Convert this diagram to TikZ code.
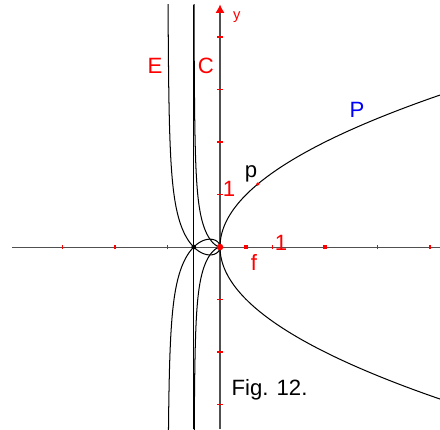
\documentclass[tikz,border=0pt]{standalone}
\usepackage{fontspec}
\setmainfont{Liberation Sans}
\usetikzlibrary{arrows.meta}
\definecolor{figRed}{HTML}{FF0000}
\definecolor{figBlue}{HTML}{0000FF}
\definecolor{axisGray}{HTML}{505050}
\begin{document}
\begin{tikzpicture}[font=\fontsize{12}{14}\selectfont,
  lbl/.style={text=figRed, inner sep=0pt},
  curve/.style={black, line width=0.55pt},
  axis/.style={axisGray, line width=0.55pt},
  tickmark/.style={figRed, line width=0.7pt},
  rdot/.style={circle, fill=figRed, inner sep=0pt, minimum size=#1},
  rsq/.style={rectangle, fill=figRed, inner sep=0pt, minimum size=#1}]
\useasboundingbox (-4.19,-3.467) rectangle (4.19,4.705);
% ---------- axes and unit marks ----------
\draw[axis] (-3.962,0) -- (4.19,0);
\draw[axis, -{Latex[figRed, length=1.6mm, width=1.7mm]}] (0,-3.467) -- (0,4.62);
\foreach \i in {-3,-2,-1,1,2,3,4} \draw[tickmark] (\i,-0.045) -- (\i,0.045);
\foreach \j in {-3,-2,-1,1,2,3,4} \draw[tickmark] (-0.055,\j) -- (0.055,\j);
% ---------- curves: parabola P, cissoid C, strophoid E, directrix ----------
\begin{scope}
  \clip (-4.19,-3.467) rectangle (4.19,4.61);
  \draw[curve] plot[domain=-3:3, samples=120, smooth, variable=\t] ({\t*\t/2},{\t});
  \draw[curve] plot[domain=-11:11, samples=400, smooth, variable=\t]
    ({-0.5*\t*\t/(1+\t*\t)},{0.5*\t*\t*\t/(1+\t*\t)});
  \draw[curve] plot[domain=-11:11, samples=500, smooth, variable=\t]
    ({-0.5+0.5*(1-\t*\t)/(1+\t*\t)},{0.5*\t*(1-\t*\t)/(1+\t*\t)});
  \draw[curve, line width=0.8pt] (-0.5,-3.467) -- (-0.5,4.61);
\end{scope}
% ---------- points ----------
\node[rdot=1.25mm] (O) at (0,0) {};
\node[circle, fill=black, inner sep=0pt, minimum size=0.9mm] (N) at (-0.5,0) {};
\node[rsq=0.8mm] (F) at (0.5,0) {};
\node[rsq=0.8mm] (T) at (2,0) {};
\node[rdot=0.7mm] (Pt) at (0.72,1.2) {};
% ---------- labels ----------
\node[lbl] (labE) at (-1.238,3.448) {E};
\node[lbl] (labC) at (-0.267,3.448) {C};
\node[lbl, font=\fontsize{8}{9}\selectfont, anchor=base] (laby) at (0.32,4.34) {y};
\node[lbl] (lab1y) at (0.171,1.105) {1};
\node[lbl] (lab1x) at (1.162,0.086) {1};
\node[lbl, anchor=north] (labf) at (0.648,-0.13) {f};
\node[inner sep=0pt] (labp) at (0.59,1.40) {p};
\node[inner sep=0pt, text=figBlue] (labP) at (2.61,2.61) {P};
\node[inner sep=0pt] (fig) at (0.943,-2.724) {Fig. 12.};
\end{tikzpicture}
\end{document}
